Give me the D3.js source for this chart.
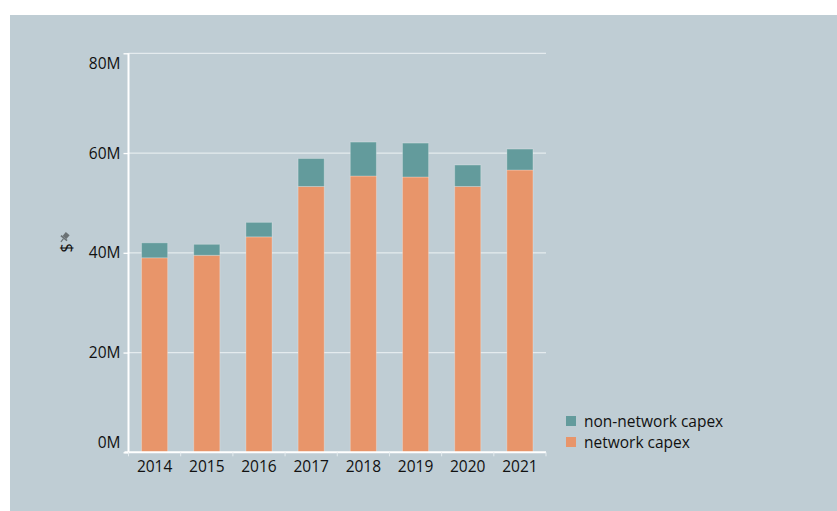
<!DOCTYPE html>
<html>
<head>
<meta charset="utf-8">
<script src="https://cdn.jsdelivr.net/npm/d3@7/dist/d3.min.js"></script>
<style>
  html, body { margin: 0; padding: 0; background: #ffffff; }
  svg { display: block; font-family: "Open Sans", "Segoe UI", sans-serif; }
</style>
</head>
<body>
<svg id="chart" width="837" height="511"></svg>
<script>
// Capital expenditure by year, split into network and non-network parts ($M)
const years = ["2014", "2015", "2016", "2017", "2018", "2019", "2020", "2021"];
const networkCapex = [39.0, 39.5, 43.2, 53.3, 55.4, 55.2, 53.3, 56.6];
const nonNetworkCapex = [3.0, 2.2, 2.9, 5.6, 6.8, 6.8, 4.3, 4.2];
const yTicks = [0, 20, 40, 60, 80];
const seriesNames = ["network capex", "non-network capex"];
const seriesColors = ["#e8956a", "#639b9c"];

const svg = d3.select("#chart");
const W = 837, H = 511;
const FONT = 15.5;
const TEXT = "#111111";

// panel background
svg.append("rect").attr("x", 10).attr("y", 15).attr("width", W - 10).attr("height", H - 15)
  .attr("fill", "#bfcdd4");

const x0 = 128.5, x1 = 546, yTop = 53.3, yBot = 452.3;

const x = d3.scaleBand().domain(years).range([x0, x1]).paddingInner(0.5).paddingOuter(0.25);
const y = d3.scaleLinear().domain([0, 80]).range([yBot, yTop]);

// horizontal gridlines
svg.append("g").selectAll("line").data(yTicks.filter(t => t > 0)).join("line")
  .attr("x1", x0).attr("x2", x1)
  .attr("y1", d => y(d)).attr("y2", d => y(d))
  .attr("stroke", "#e4ebee").attr("stroke-width", 1.3);

// stacked bars
const rows = years.map((yr, i) => ({ year: yr, network: networkCapex[i], nonNetwork: nonNetworkCapex[i] }));
const stack = d3.stack().keys(["network", "nonNetwork"])(rows);
svg.append("g").selectAll("g").data(stack).join("g")
  .attr("fill", (d, i) => seriesColors[i])
  .selectAll("rect").data(d => d).join("rect")
  .attr("x", d => x(d.data.year))
  .attr("width", x.bandwidth())
  .attr("y", d => y(d[1]))
  .attr("height", d => y(d[0]) - y(d[1]))
  .attr("stroke", "rgba(255,255,255,0.25)").attr("stroke-width", 1);

// y axis
const yAxis = svg.append("g").attr("transform", `translate(${x0},0)`)
  .call(d3.axisLeft(y).tickValues(yTicks).tickFormat(d => d + "M").tickSize(5).tickPadding(3));
yAxis.select(".domain").attr("stroke", "#ffffff").attr("stroke-width", 2)
  .attr("d", `M0,${yBot + 1}V${yTop}`);
yAxis.selectAll(".tick line").attr("stroke", "#ffffff").attr("stroke-width", 1.3);
yAxis.selectAll(".tick text")
  .attr("fill", TEXT).attr("font-size", FONT)
  .attr("font-family", "'Open Sans', 'Segoe UI', sans-serif")
  .attr("dy", d => d === 80 ? "1.0em" : d === 0 ? "-0.28em" : "0.32em");

// x axis
const xAxis = svg.append("g").attr("transform", `translate(0,${yBot})`)
  .call(d3.axisBottom(x).tickSize(0).tickPadding(9));
xAxis.select(".domain").attr("stroke", "#ffffff").attr("stroke-width", 2)
  .attr("d", `M${x0 - 4},0H${x1}`);
xAxis.selectAll(".tick text").attr("fill", TEXT).attr("font-size", FONT)
  .attr("font-family", "'Open Sans', 'Segoe UI', sans-serif");
// category separator ticks
const seps = d3.range(years.length + 1).map(i => x0 + i * (x1 - x0) / years.length);
svg.append("g").selectAll("line").data(seps).join("line")
  .attr("x1", d => d).attr("x2", d => d)
  .attr("y1", yBot).attr("y2", yBot + 4)
  .attr("stroke", "#e4ebee").attr("stroke-width", 1);

// y axis title with pin marker
const yTitle = svg.append("g").attr("transform", "translate(66,248)");
yTitle.append("text").attr("transform", "rotate(-90)")
  .attr("text-anchor", "middle").attr("dy", "0.35em")
  .attr("font-size", 16).attr("fill", TEXT).text("$");
const pin = svg.append("g").attr("transform", "translate(64.5,237.5) rotate(40)").attr("fill", "#6a7174");
pin.append("rect").attr("x", -2.5).attr("y", -5).attr("width", 5).attr("height", 5);
pin.append("rect").attr("x", -4).attr("y", 0).attr("width", 8).attr("height", 1.6);
pin.append("rect").attr("x", -0.6).attr("y", 1.6).attr("width", 1.2).attr("height", 4);

// legend
const legendItems = [
  { name: seriesNames[1], color: seriesColors[1] },
  { name: seriesNames[0], color: seriesColors[0] }
];
const legend = svg.append("g").attr("transform", "translate(566,416)");
const li = legend.selectAll("g").data(legendItems).join("g")
  .attr("transform", (d, i) => `translate(0,${i * 21})`);
li.append("rect").attr("width", 10).attr("height", 10).attr("fill", d => d.color);
li.append("text").attr("x", 18).attr("y", 6).attr("dy", "0.35em")
  .attr("font-size", FONT).attr("fill", TEXT).text(d => d.name);
</script>
</body>
</html>
